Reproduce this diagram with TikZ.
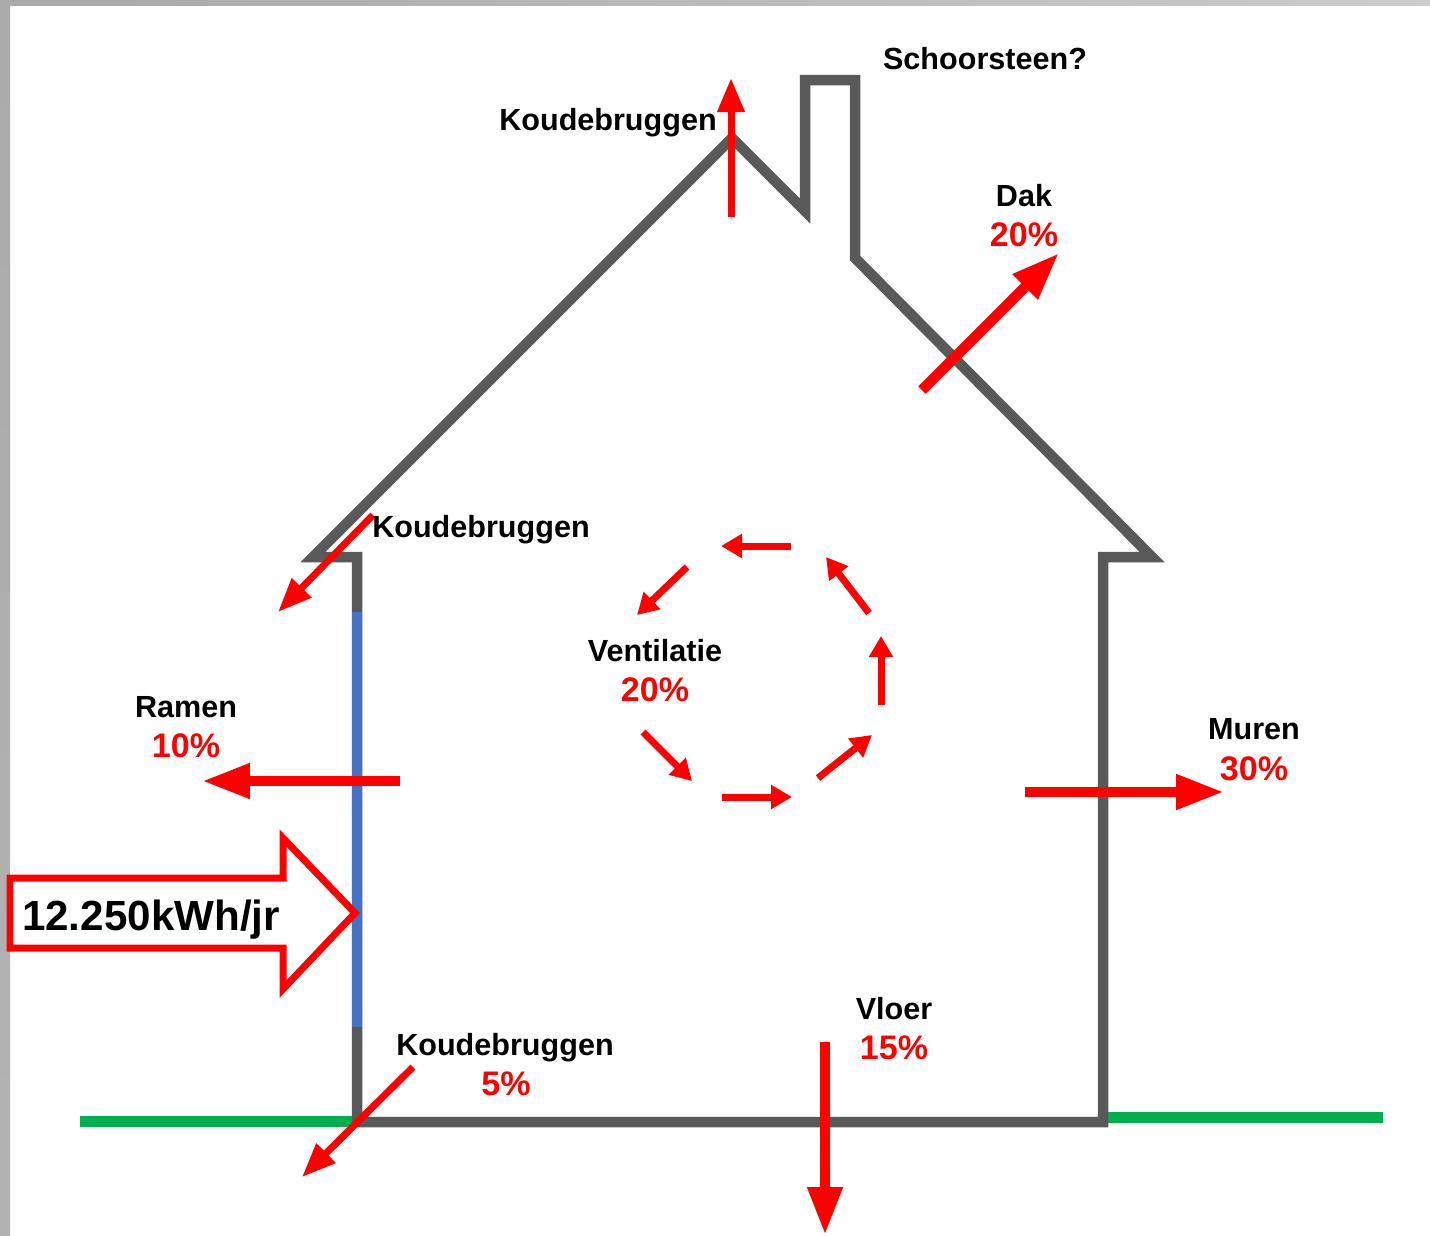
\documentclass[tikz,border=0pt]{standalone}
\usepackage{fontspec}
\setmainfont{Liberation Sans}
\usetikzlibrary{arrows.meta}
\definecolor{wallgray}{HTML}{595959}
\definecolor{groundgreen}{HTML}{00B050}
\definecolor{glassblue}{HTML}{4472C4}
\definecolor{lossred}{HTML}{FF0000}
\begin{document}
\begin{tikzpicture}[x=0.02cm, y=-0.02cm,
	wall/.style={draw=wallgray, line width=0.21cm, line join=miter},
	ground/.style={draw=groundgreen, line width=0.22cm},
	loss/.style={draw=lossred, line width=0.21cm, -{Triangle[length=0.96cm,width=0.66cm]}},
	bridge/.style={draw=lossred, line width=0.14cm, -{Triangle[length=0.68cm,width=0.52cm]}},
	swirl/.style={draw=lossred, line width=0.14cm, -{Triangle[length=0.42cm,width=0.46cm]}},
	txt/.style={font=\fontsize{17.4}{20}\selectfont\bfseries, anchor=base},
	pct/.style={txt, font=\fontsize{19.4}{22}\selectfont\bfseries, text=lossred}]
	\useasboundingbox (0,0) rectangle (1430,1235);
	%Frame
	\fill[white] (0,0) rectangle (1430,1235);
	\shade[left color=black!34, right color=black!20] (0,0) rectangle (1430,5);
	\shade[top color=black!33, bottom color=black!30] (0,0) rectangle (10,1235);
	%Ground
	\draw[ground] (80,1121) -- (352,1121);
	\draw[ground] (1108,1117) -- (1383,1117);
	%House
	\draw[wall] (357,1122) -- (357,557) -- (313,557) -- (732,138) -- (805,211) -- (805,80)
		-- (855,80) -- (855,258) -- (1152,557) -- (1103,557) -- (1103,1122) -- cycle;
	%Window
	\draw[draw=glassblue, line width=0.2cm] (357,612) -- (357,1027);
	%Losses
	\draw[bridge] (731,217) -- (731,78);
	\draw[loss] (922,390) -- (1059,253);
	\draw[bridge] (373,515) -- (278,612);
	\draw[loss] (400,781) -- (202,781);
	\draw[loss] (1025,792) -- (1224,792);
	\draw[bridge] (413,1067) -- (302,1177);
	\draw[loss] (825,1042) -- (825,1235);
	%Ventilation
	\draw[swirl] (791,546) -- (721,546);
	\draw[swirl] (687,567) -- (637,615);
	\draw[swirl] (643,732) -- (692,781);
	\draw[swirl] (722,797) -- (792,797);
	\draw[swirl] (818,778) -- (872,735);
	\draw[swirl] (881,705) -- (881,636);
	\draw[swirl] (869,613) -- (826,557);
	%Energy input
	\draw[draw=lossred, fill=white, line width=0.14cm, line join=miter]
		(10,878) -- (283,878) -- (283,838) -- (355,913) -- (283,989) -- (283,948) -- (10,948) -- cycle;
	\node[txt, font=\fontsize{24}{28}\selectfont\bfseries] (input) at (151,930) {12.250kWh/jr};
	%Labels
	\node[txt] (chimney) at (985,69) {Schoorsteen?};
	\node[txt] (bridgetop) at (608,130) {Koudebruggen};
	\node[txt] (roof) at (1024,206) {Dak};
	\node[pct] (roofpct) at (1024,246) {20\%};
	\node[txt] (bridgeeave) at (481,537) {Koudebruggen};
	\node[txt] (vent) at (655,661) {Ventilatie};
	\node[pct] (ventpct) at (655,701) {20\%};
	\node[txt] (windows) at (186,717) {Ramen};
	\node[pct] (windowspct) at (186,757) {10\%};
	\node[txt] (walls) at (1254,739) {Muren};
	\node[pct] (wallspct) at (1254,780) {30\%};
	\node[txt] (bridgefoot) at (505,1055) {Koudebruggen};
	\node[pct] (bridgepct) at (506,1095) {5\%};
	\node[txt] (floor) at (894,1019) {Vloer};
	\node[pct] (floorpct) at (894,1059) {15\%};
\end{tikzpicture}
\end{document}
